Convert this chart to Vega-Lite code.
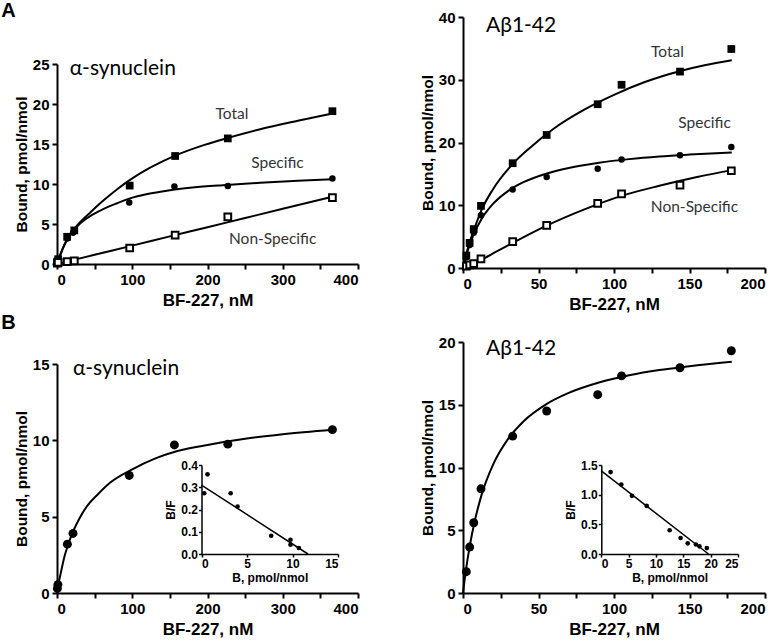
{
 "$schema": "https://vega.github.io/schema/vega-lite/v6.json",
 "padding": {"left": 1, "top": 1, "right": 5, "bottom": 5},
 "background": "white",
 "bounds": "flush",
 "columns": 2,
 "spacing": {"row": 74, "column": 105},
 "config": {
  "view": {"stroke": null},
  "axis": {"grid": false, "domainColor": "black", "domainWidth": 2, "tickColor": "black", "tickWidth": 2, "tickSize": 5,
   "labelFont": "Liberation Sans", "labelFontWeight": "bold", "labelFontSize": 15, "labelColor": "black", "labelPadding": 3,
   "titleFont": "Liberation Sans", "titleFontWeight": "bold", "titleColor": "black"},
  "axisX": {"titleFontSize": 17, "titlePadding": 5},
  "axisY": {"titleFontSize": 15.5, "titlePadding": 3},
  "title": {"font": "Liberation Sans", "fontWeight": "bold", "fontSize": 20, "color": "black"}
 },
 "datasets": {
  "aPts": [
   {"series": "Total", "x": 0.5, "y": 0.3}, {"series": "Total", "x": 1.5, "y": 0.6}, {"series": "Total", "x": 13.5, "y": 3.4}, {"series": "Total", "x": 23, "y": 4.2}, {"series": "Total", "x": 96.6, "y": 9.8}, {"series": "Total", "x": 157, "y": 13.5}, {"series": "Total", "x": 227, "y": 15.7}, {"series": "Total", "x": 366, "y": 19.1},
   {"series": "Specific", "x": 0.5, "y": 0.3}, {"series": "Specific", "x": 1.5, "y": 0.5}, {"series": "Specific", "x": 13.8, "y": 3.2}, {"series": "Specific", "x": 21.3, "y": 3.9}, {"series": "Specific", "x": 96, "y": 7.7}, {"series": "Specific", "x": 156, "y": 9.7}, {"series": "Specific", "x": 227, "y": 9.75}, {"series": "Specific", "x": 366, "y": 10.7},
   {"series": "Non-Specific", "x": 0.5, "y": 0.1}, {"series": "Non-Specific", "x": 1.5, "y": 0.2}, {"series": "Non-Specific", "x": 13.5, "y": 0.3}, {"series": "Non-Specific", "x": 23, "y": 0.4}, {"series": "Non-Specific", "x": 96.6, "y": 2.0}, {"series": "Non-Specific", "x": 157, "y": 3.6}, {"series": "Non-Specific", "x": 227, "y": 5.9}, {"series": "Non-Specific", "x": 366, "y": 8.3}
  ],
  "aFit": [
   {"series": "Total", "x": 0, "y": 0}, {"series": "Total", "x": 5, "y": 1.3}, {"series": "Total", "x": 10, "y": 2.45}, {"series": "Total", "x": 15, "y": 3.35}, {"series": "Total", "x": 22, "y": 4.3}, {"series": "Total", "x": 30, "y": 5.15}, {"series": "Total", "x": 45, "y": 6.5}, {"series": "Total", "x": 60, "y": 7.8}, {"series": "Total", "x": 80, "y": 9.35}, {"series": "Total", "x": 100, "y": 10.7}, {"series": "Total", "x": 125, "y": 12.1}, {"series": "Total", "x": 157, "y": 13.55}, {"series": "Total", "x": 190, "y": 14.7}, {"series": "Total", "x": 227, "y": 15.75}, {"series": "Total", "x": 270, "y": 16.85}, {"series": "Total", "x": 320, "y": 17.9}, {"series": "Total", "x": 366, "y": 18.8},
   {"series": "Specific", "x": 0, "y": 0}, {"series": "Specific", "x": 5, "y": 1.3}, {"series": "Specific", "x": 10, "y": 2.4}, {"series": "Specific", "x": 15, "y": 3.3}, {"series": "Specific", "x": 22, "y": 4.2}, {"series": "Specific", "x": 30, "y": 5.0}, {"series": "Specific", "x": 46, "y": 6.1}, {"series": "Specific", "x": 60, "y": 6.8}, {"series": "Specific", "x": 80, "y": 7.6}, {"series": "Specific", "x": 97, "y": 8.2}, {"series": "Specific", "x": 120, "y": 8.75}, {"series": "Specific", "x": 148, "y": 9.2}, {"series": "Specific", "x": 180, "y": 9.55}, {"series": "Specific", "x": 220, "y": 9.85}, {"series": "Specific", "x": 270, "y": 10.15}, {"series": "Specific", "x": 320, "y": 10.4}, {"series": "Specific", "x": 366, "y": 10.6},
   {"series": "Non-Specific", "x": 0, "y": 0}, {"series": "Non-Specific", "x": 50, "y": 1.15}, {"series": "Non-Specific", "x": 100, "y": 2.3}, {"series": "Non-Specific", "x": 150, "y": 3.45}, {"series": "Non-Specific", "x": 200, "y": 4.6}, {"series": "Non-Specific", "x": 250, "y": 5.75}, {"series": "Non-Specific", "x": 300, "y": 6.9}, {"series": "Non-Specific", "x": 366, "y": 8.4}
  ],
  "aLab": [
   {"x": 232.6, "y": 18.75, "label": "Total"}, {"x": 293, "y": 12.6, "label": "Specific"}, {"x": 286.6, "y": 3.1, "label": "Non-Specific"}
  ],
  "aName": [{"x": 17, "y": 23.6, "label": "α-synuclein"}],
  "bPts": [
   {"series": "Total", "x": 2.2, "y": 2.0}, {"series": "Total", "x": 4.4, "y": 4.0}, {"series": "Total", "x": 7.1, "y": 6.2}, {"series": "Total", "x": 11.9, "y": 9.9}, {"series": "Total", "x": 32.9, "y": 16.7}, {"series": "Total", "x": 55.4, "y": 21.2}, {"series": "Total", "x": 89.2, "y": 26.1}, {"series": "Total", "x": 105, "y": 29.2}, {"series": "Total", "x": 143.7, "y": 31.3}, {"series": "Total", "x": 177.7, "y": 34.9},
   {"series": "Specific", "x": 2.2, "y": 1.7}, {"series": "Specific", "x": 4.4, "y": 3.66}, {"series": "Specific", "x": 7.1, "y": 5.6}, {"series": "Specific", "x": 11.9, "y": 8.4}, {"series": "Specific", "x": 32.9, "y": 12.5}, {"series": "Specific", "x": 55.4, "y": 14.5}, {"series": "Specific", "x": 89.2, "y": 15.8}, {"series": "Specific", "x": 105, "y": 17.3}, {"series": "Specific", "x": 143.7, "y": 17.95}, {"series": "Specific", "x": 177.7, "y": 19.3},
   {"series": "Non-Specific", "x": 2.2, "y": 0.3}, {"series": "Non-Specific", "x": 4.4, "y": 0.5}, {"series": "Non-Specific", "x": 7.1, "y": 0.7}, {"series": "Non-Specific", "x": 11.9, "y": 1.45}, {"series": "Non-Specific", "x": 32.9, "y": 4.2}, {"series": "Non-Specific", "x": 55.4, "y": 6.8}, {"series": "Non-Specific", "x": 89.2, "y": 10.3}, {"series": "Non-Specific", "x": 105, "y": 11.8}, {"series": "Non-Specific", "x": 143.7, "y": 13.2}, {"series": "Non-Specific", "x": 177.7, "y": 15.5}
  ],
  "bFit": [
   {"series": "Total", "x": 0, "y": 0}, {"series": "Total", "x": 2, "y": 2.0}, {"series": "Total", "x": 4, "y": 3.8}, {"series": "Total", "x": 7, "y": 5.9}, {"series": "Total", "x": 12, "y": 9.1}, {"series": "Total", "x": 20, "y": 12.6}, {"series": "Total", "x": 33, "y": 16.6}, {"series": "Total", "x": 45, "y": 19.3}, {"series": "Total", "x": 60, "y": 22.2}, {"series": "Total", "x": 80, "y": 25.2}, {"series": "Total", "x": 100, "y": 27.6}, {"series": "Total", "x": 120, "y": 29.6}, {"series": "Total", "x": 144, "y": 31.4}, {"series": "Total", "x": 160, "y": 32.3}, {"series": "Total", "x": 178, "y": 33.1},
   {"series": "Specific", "x": 0, "y": 0}, {"series": "Specific", "x": 2, "y": 1.86}, {"series": "Specific", "x": 4, "y": 3.42}, {"series": "Specific", "x": 7, "y": 5.3}, {"series": "Specific", "x": 12, "y": 7.7}, {"series": "Specific", "x": 20, "y": 10.25}, {"series": "Specific", "x": 30, "y": 12.3}, {"series": "Specific", "x": 40, "y": 13.67}, {"series": "Specific", "x": 55, "y": 15.03}, {"series": "Specific", "x": 70, "y": 15.94}, {"series": "Specific", "x": 90, "y": 16.77}, {"series": "Specific", "x": 110, "y": 17.35}, {"series": "Specific", "x": 130, "y": 17.77}, {"series": "Specific", "x": 150, "y": 18.07}, {"series": "Specific", "x": 178, "y": 18.4},
   {"series": "Non-Specific", "x": 0, "y": 0}, {"series": "Non-Specific", "x": 4, "y": 0.4}, {"series": "Non-Specific", "x": 12, "y": 1.3}, {"series": "Non-Specific", "x": 22, "y": 2.6}, {"series": "Non-Specific", "x": 33, "y": 4.0}, {"series": "Non-Specific", "x": 55, "y": 6.7}, {"series": "Non-Specific", "x": 80, "y": 9.3}, {"series": "Non-Specific", "x": 105, "y": 11.5}, {"series": "Non-Specific", "x": 130, "y": 13.1}, {"series": "Non-Specific", "x": 155, "y": 14.5}, {"series": "Non-Specific", "x": 178, "y": 15.6}
  ],
  "bLab": [
   {"x": 135.4, "y": 34.4, "label": "Total"}, {"x": 160, "y": 23.1, "label": "Specific"}, {"x": 153.3, "y": 9.7, "label": "Non-Specific"}
  ],
  "bName": [{"x": 15.2, "y": 37.6, "label": "Aβ1-42"}],
  "cPts": [
   {"x": 0.5, "y": 0.3}, {"x": 1.2, "y": 0.55}, {"x": 13.8, "y": 3.2}, {"x": 21.3, "y": 3.9}, {"x": 96, "y": 7.7}, {"x": 156, "y": 9.7}, {"x": 227, "y": 9.75}, {"x": 366, "y": 10.7}
  ],
  "cFit": [
   {"x": 0, "y": 0}, {"x": 2, "y": 0.6}, {"x": 5, "y": 1.3}, {"x": 10, "y": 2.4}, {"x": 15, "y": 3.2}, {"x": 22, "y": 4.1}, {"x": 30, "y": 4.9}, {"x": 40, "y": 5.7}, {"x": 55, "y": 6.5}, {"x": 70, "y": 7.2}, {"x": 100, "y": 8.1}, {"x": 130, "y": 8.8}, {"x": 160, "y": 9.3}, {"x": 200, "y": 9.7}, {"x": 250, "y": 10.1}, {"x": 300, "y": 10.4}, {"x": 366, "y": 10.7}
  ],
  "cName": [{"x": 21.3, "y": 14.3, "label": "α-synuclein"}],
  "cInsetPts": [
   {"B": 0.3, "BF": 0.273}, {"B": 0.66, "BF": 0.358}, {"B": 3.2, "BF": 0.273}, {"B": 3.96, "BF": 0.213}, {"B": 7.66, "BF": 0.082}, {"B": 9.78, "BF": 0.064}, {"B": 9.78, "BF": 0.042}, {"B": 10.7, "BF": 0.027}
  ],
  "cInsetLine": [{"B": 0, "BF": 0.31}, {"B": 11.7, "BF": 0}],
  "dPts": [
   {"x": 2.2, "y": 1.7}, {"x": 4.4, "y": 3.66}, {"x": 7.1, "y": 5.6}, {"x": 11.9, "y": 8.3}, {"x": 32.9, "y": 12.5}, {"x": 55.4, "y": 14.5}, {"x": 89.2, "y": 15.8}, {"x": 105, "y": 17.3}, {"x": 143.7, "y": 17.95}, {"x": 177.7, "y": 19.3}
  ],
  "dFit": [
   {"x": 0, "y": 0}, {"x": 1, "y": 0.98}, {"x": 2, "y": 1.86}, {"x": 4, "y": 3.42}, {"x": 7, "y": 5.3}, {"x": 12, "y": 7.7}, {"x": 20, "y": 10.25}, {"x": 30, "y": 12.3}, {"x": 40, "y": 13.67}, {"x": 55, "y": 15.03}, {"x": 70, "y": 15.94}, {"x": 90, "y": 16.77}, {"x": 110, "y": 17.35}, {"x": 130, "y": 17.77}, {"x": 150, "y": 18.07}, {"x": 178, "y": 18.43}
  ],
  "dName": [{"x": 15.2, "y": 18.96, "label": "Aβ1-42"}],
  "dInsetPts": [
   {"B": 1.7, "BF": 1.38}, {"B": 3.66, "BF": 1.17}, {"B": 5.6, "BF": 0.98}, {"B": 8.3, "BF": 0.81}, {"B": 12.5, "BF": 0.40}, {"B": 14.5, "BF": 0.27}, {"B": 15.8, "BF": 0.18}, {"B": 17.3, "BF": 0.16}, {"B": 17.95, "BF": 0.13}, {"B": 19.3, "BF": 0.10}
  ],
  "dInsetLine": [{"B": 0, "BF": 1.40}, {"B": 19.6, "BF": 0}]
 },
 "concat": [
  {
   "title": {"text": "A", "anchor": "start", "frame": "bounds", "offset": -4, "dx": -13},
   "width": 301, "height": 251,
   "encoding": {
    "x": {"field": "x", "type": "quantitative", "scale": {"domain": [0, 400]},
     "axis": {"values": [0, 50, 100, 150, 200, 250, 300, 350, 400], "labelExpr": "datum.value % 100 === 0 ? datum.label : ''", "offset": -4, "title": "BF-227, nM"}},
    "y": {"field": "y", "type": "quantitative", "scale": {"domain": [0, 25], "range": [247, 47]},
     "axis": {"values": [0, 5, 10, 15, 20, 25], "title": "Bound, pmol/nmol"}}
   },
   "layer": [
    {"data": {"name": "aFit"}, "mark": {"type": "line", "color": "black", "strokeWidth": 2, "interpolate": "monotone"}, "encoding": {"detail": {"field": "series"}}},
    {"data": {"name": "aPts"}, "transform": [{"filter": "datum.series === 'Total'"}], "mark": {"type": "point", "shape": "square", "filled": true, "color": "black", "size": 60, "opacity": 1}},
    {"data": {"name": "aPts"}, "transform": [{"filter": "datum.series === 'Specific'"}], "mark": {"type": "point", "shape": "circle", "filled": true, "color": "black", "size": 42, "opacity": 1}},
    {"data": {"name": "aPts"}, "transform": [{"filter": "datum.series === 'Non-Specific'"}], "mark": {"type": "point", "shape": "square", "filled": true, "fill": "white", "stroke": "black", "strokeWidth": 2, "size": 45, "opacity": 1}},
    {"data": {"name": "aLab"}, "mark": {"type": "text", "font": "Lato, Noto Sans", "fontSize": 15.5, "color": "#333", "align": "center", "baseline": "middle"}, "encoding": {"text": {"field": "label"}}},
    {"data": {"name": "aName"}, "mark": {"type": "text", "font": "Lato, Noto Sans", "fontSize": 21, "color": "black", "align": "left", "baseline": "alphabetic"}, "encoding": {"text": {"field": "label"}}}
   ]
  },
  {
   "width": 302, "height": 251,
   "encoding": {
    "x": {"field": "x", "type": "quantitative", "scale": {"domain": [0, 200]},
     "axis": {"values": [0, 25, 50, 75, 100, 125, 150, 175, 200], "labelExpr": "datum.value % 50 === 0 ? datum.label : ''", "title": "BF-227, nM"}},
    "y": {"field": "y", "type": "quantitative", "scale": {"domain": [0, 40]},
     "axis": {"values": [0, 10, 20, 30, 40], "title": "Bound, pmol/nmol"}}
   },
   "layer": [
    {"data": {"name": "bFit"}, "mark": {"type": "line", "color": "black", "strokeWidth": 2, "interpolate": "monotone"}, "encoding": {"detail": {"field": "series"}}},
    {"data": {"name": "bPts"}, "transform": [{"filter": "datum.series === 'Total'"}], "mark": {"type": "point", "shape": "square", "filled": true, "color": "black", "size": 60, "opacity": 1}},
    {"data": {"name": "bPts"}, "transform": [{"filter": "datum.series === 'Specific'"}], "mark": {"type": "point", "shape": "circle", "filled": true, "color": "black", "size": 42, "opacity": 1}},
    {"data": {"name": "bPts"}, "transform": [{"filter": "datum.series === 'Non-Specific'"}], "mark": {"type": "point", "shape": "square", "filled": true, "fill": "white", "stroke": "black", "strokeWidth": 2, "size": 45, "opacity": 1}},
    {"data": {"name": "bLab"}, "mark": {"type": "text", "font": "Lato, Noto Sans", "fontSize": 15.5, "color": "#333", "align": "center", "baseline": "middle"}, "encoding": {"text": {"field": "label"}}},
    {"data": {"name": "bName"}, "mark": {"type": "text", "font": "Lato, Noto Sans", "fontSize": 21, "color": "black", "align": "left", "baseline": "alphabetic"}, "encoding": {"text": {"field": "label"}}}
   ]
  },
  {
   "title": {"text": "B", "anchor": "start", "frame": "bounds", "offset": 9, "dx": -13},
   "width": 301, "height": 251,
   "resolve": {"scale": {"x": "independent", "y": "independent"}, "axis": {"x": "independent", "y": "independent"}},
   "layer": [
    {
     "encoding": {
      "x": {"field": "x", "type": "quantitative", "scale": {"domain": [0, 400]},
       "axis": {"values": [0, 50, 100, 150, 200, 250, 300, 350, 400], "labelExpr": "datum.value % 100 === 0 ? datum.label : ''", "title": "BF-227, nM"}},
      "y": {"field": "y", "type": "quantitative", "scale": {"domain": [0, 15], "range": [251, 22]},
       "axis": {"values": [0, 5, 10, 15], "title": "Bound, pmol/nmol"}}
     },
     "layer": [
      {"data": {"name": "cFit"}, "mark": {"type": "line", "color": "black", "strokeWidth": 2, "interpolate": "monotone"}, "encoding": {}},
      {"data": {"name": "cPts"}, "mark": {"type": "point", "shape": "circle", "filled": true, "color": "black", "size": 80, "opacity": 1}},
      {"data": {"name": "cName"}, "mark": {"type": "text", "font": "Lato, Noto Sans", "fontSize": 21, "color": "black", "align": "left", "baseline": "alphabetic"}, "encoding": {"text": {"field": "label"}}}
     ]
    },
    {
     "encoding": {
      "x": {"field": "B", "type": "quantitative", "scale": {"domain": [0, 15], "range": [144.5, 281]},
       "axis": {"orient": "bottom", "offset": -39, "values": [0, 5, 10, 15], "title": "B, pmol/nmol", "domainWidth": 1.5, "tickWidth": 1.5, "tickSize": 3, "labelFontSize": 12, "titleFontSize": 12, "labelPadding": 1, "titlePadding": 3}},
      "y": {"field": "BF", "type": "quantitative", "scale": {"domain": [0, 0.4], "range": [212, 123]},
       "axis": {"orient": "left", "offset": -144.5, "values": [0, 0.1, 0.2, 0.3, 0.4], "format": ".1f", "title": "B/F", "domainWidth": 1.5, "tickWidth": 1.5, "tickSize": 3, "labelFontSize": 12, "titleFontSize": 12, "labelPadding": 1, "titlePadding": 3}}
     },
     "layer": [
      {"data": {"name": "cInsetLine"}, "mark": {"type": "line", "color": "black", "strokeWidth": 1.5}, "encoding": {}},
      {"data": {"name": "cInsetPts"}, "mark": {"type": "point", "shape": "circle", "filled": true, "color": "black", "size": 22, "opacity": 1}}
     ]
    }
   ]
  },
  {
   "width": 302, "height": 251,
   "resolve": {"scale": {"x": "independent", "y": "independent"}, "axis": {"x": "independent", "y": "independent"}},
   "layer": [
    {
     "encoding": {
      "x": {"field": "x", "type": "quantitative", "scale": {"domain": [0, 200]},
       "axis": {"values": [0, 25, 50, 75, 100, 125, 150, 175, 200], "labelExpr": "datum.value % 50 === 0 ? datum.label : ''", "title": "BF-227, nM"}},
      "y": {"field": "y", "type": "quantitative", "scale": {"domain": [0, 20]},
       "axis": {"values": [0, 5, 10, 15, 20], "title": "Bound, pmol/nmol"}}
     },
     "layer": [
      {"data": {"name": "dFit"}, "mark": {"type": "line", "color": "black", "strokeWidth": 2, "interpolate": "monotone"}, "encoding": {}},
      {"data": {"name": "dPts"}, "mark": {"type": "point", "shape": "circle", "filled": true, "color": "black", "size": 80, "opacity": 1}},
      {"data": {"name": "dName"}, "mark": {"type": "text", "font": "Lato, Noto Sans", "fontSize": 21, "color": "black", "align": "left", "baseline": "alphabetic"}, "encoding": {"text": {"field": "label"}}}
     ]
    },
    {
     "encoding": {
      "x": {"field": "B", "type": "quantitative", "scale": {"domain": [0, 25], "range": [138.3, 275]},
       "axis": {"orient": "bottom", "offset": -39, "values": [0, 5, 10, 15, 20, 25], "title": "B, pmol/nmol", "domainWidth": 1.5, "tickWidth": 1.5, "tickSize": 3, "labelFontSize": 12, "titleFontSize": 12, "labelPadding": 1, "titlePadding": 3}},
      "y": {"field": "BF", "type": "quantitative", "scale": {"domain": [0, 1.5], "range": [212, 123]},
       "axis": {"orient": "left", "offset": -138.3, "values": [0, 0.5, 1, 1.5], "format": ".1f", "title": "B/F", "domainWidth": 1.5, "tickWidth": 1.5, "tickSize": 3, "labelFontSize": 12, "titleFontSize": 12, "labelPadding": 1, "titlePadding": 3}}
     },
     "layer": [
      {"data": {"name": "dInsetLine"}, "mark": {"type": "line", "color": "black", "strokeWidth": 1.5}, "encoding": {}},
      {"data": {"name": "dInsetPts"}, "mark": {"type": "point", "shape": "circle", "filled": true, "color": "black", "size": 22, "opacity": 1}}
     ]
    }
   ]
  }
 ]
}
